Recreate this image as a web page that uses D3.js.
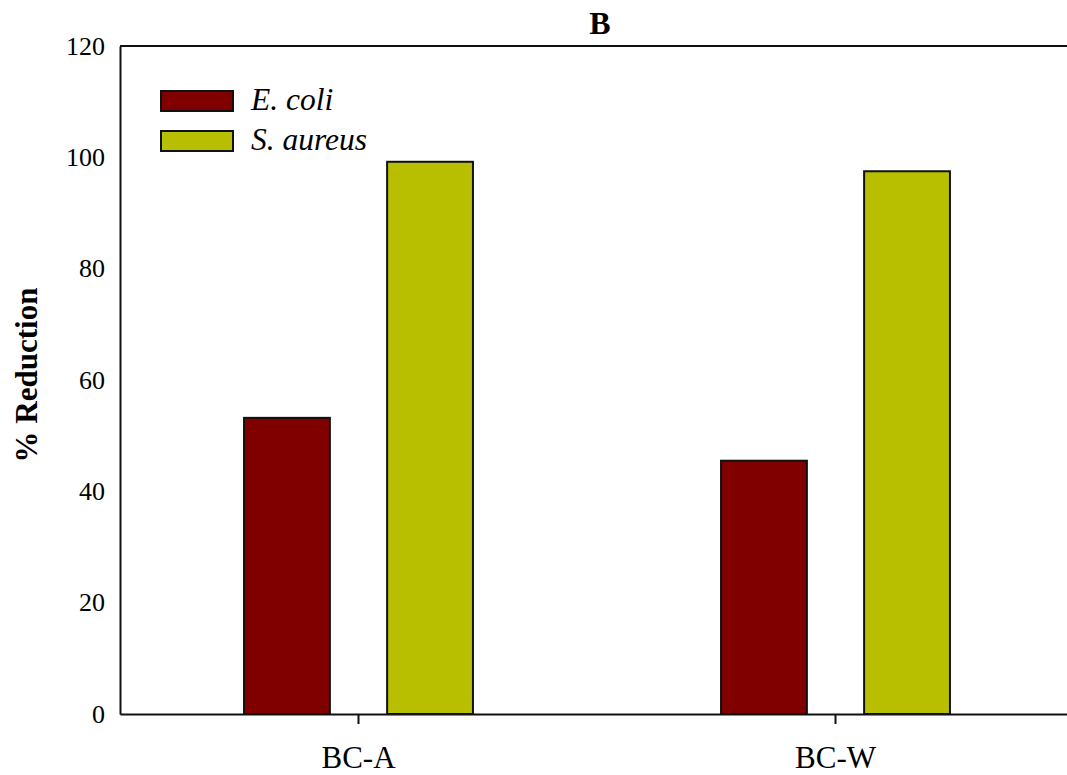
<!DOCTYPE html>
<html>
<head>
<meta charset="utf-8">
<script src="https://cdn.jsdelivr.net/npm/d3@7"></script>
<style>
  html, body { margin: 0; padding: 0; background: #fff; }
  svg { display: block; }
  text { font-family: "Liberation Serif", "Times New Roman", serif; fill: #000; }
</style>
</head>
<body>
<svg id="chart" width="1067" height="775"></svg>
<script>
const categories = ["BC-A", "BC-W"];
const seriesNames = ["E. coli", "S. aureus"];
const ecoliValues = [53.2, 45.5];
const saureusValues = [99.2, 97.5];
const yTicks = [0, 20, 40, 60, 80, 100, 120];
const colors = ["#800000", "#b8bf00"];

(function () {
const seriesValues = [ecoliValues, saureusValues];
const svg = d3.select("#chart");

const mLeft = 120, mRight = 1074, mTop = 46, mBottom = 714;

const x = d3.scaleBand().domain(categories).range([mLeft, mRight]).paddingInner(0).paddingOuter(0);
const xInner = d3.scaleBand().domain(seriesNames).range([0, x.bandwidth()]).paddingInner(0.4).paddingOuter(0.867);
const y = d3.scaleLinear().domain([0, 120]).range([mBottom, mTop]);

// bars
categories.forEach((c, ci) => {
  seriesNames.forEach((s, si) => {
    const v = seriesValues[si][ci];
    svg.append("rect")
      .attr("x", x(c) + xInner(s))
      .attr("y", y(v))
      .attr("width", xInner.bandwidth())
      .attr("height", y(0) - y(v))
      .attr("fill", colors[si])
      .attr("stroke", "#111")
      .attr("stroke-width", 2);
  });
});

// y axis (no ticks)
const yAxis = svg.append("g").attr("transform", `translate(${mLeft},0)`)
  .call(d3.axisLeft(y).tickValues(yTicks).tickSize(0).tickPadding(15));
yAxis.select(".domain").attr("stroke", "#111").attr("stroke-width", 2);
yAxis.selectAll("text").style("font-size", "26px").style("font-family", "Liberation Serif");

// x axis
const xAxis = svg.append("g").attr("transform", `translate(0,${mBottom})`)
  .call(d3.axisBottom(x).tickSizeInner(10).tickSizeOuter(0));
xAxis.select(".domain").attr("stroke", "#111").attr("stroke-width", 2);
xAxis.selectAll(".tick line").attr("stroke", "#111").attr("stroke-width", 2);
xAxis.selectAll("text").attr("y", 54).attr("dy", 0)
  .style("font-size", "31px").style("font-family", "Liberation Serif");

// top border
svg.append("line").attr("x1", mLeft).attr("x2", mRight).attr("y1", mTop).attr("y2", mTop)
  .attr("stroke", "#111").attr("stroke-width", 2);

// title
svg.append("text").attr("x", 600).attr("y", 34).attr("text-anchor", "middle")
  .style("font-size", "32px").style("font-weight", "bold").text("B");

// y label
svg.append("text").attr("transform", `translate(37,375) rotate(-90)`)
  .attr("text-anchor", "middle").style("font-size", "31px").style("font-weight", "bold")
  .text("% Reduction");

// legend
seriesNames.forEach((s, i) => {
  const ly = 91 + i * 40;
  svg.append("rect").attr("x", 161).attr("y", ly).attr("width", 72).attr("height", 20)
    .attr("fill", colors[i]).attr("stroke", "#111").attr("stroke-width", 2);
  svg.append("text").attr("x", 251).attr("y", ly + 19)
    .style("font-size", "31.5px").style("font-style", "italic").text(s);
});
})();
</script>
</body>
</html>
